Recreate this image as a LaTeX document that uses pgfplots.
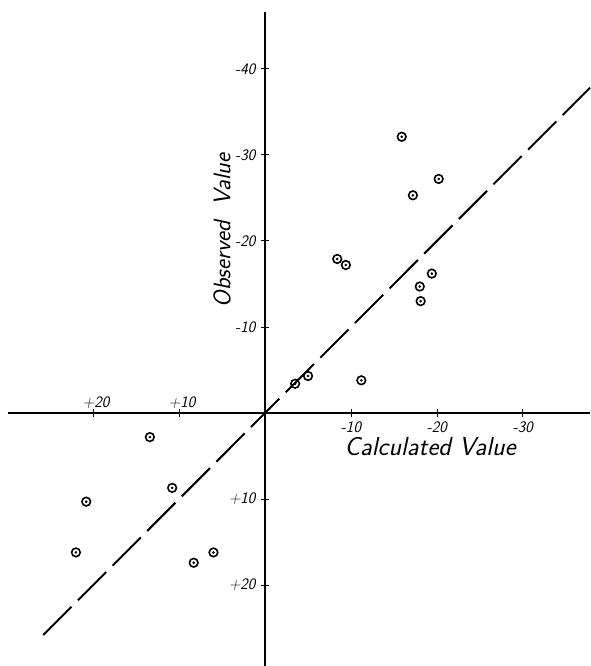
\documentclass[border=0pt]{standalone}
\usepackage{pgfplots}
\pgfplotsset{compat=1.18}
\pgfplotstableread{
x y
-15.9 -32.1
-20.2 -27.2
-17.2 -25.3
-8.4 -17.9
-9.4 -17.2
-19.4 -16.2
-18.0 -14.7
-18.1 -13.0
-5.0 -4.3
-3.5 -3.4
-11.2 -3.8
13.4 2.8
10.8 8.7
20.8 10.3
22.0 16.2
6.0 16.2
8.3 17.4
}\obs
\begin{document}
\begin{tikzpicture}
\begin{axis}[
  name=ax,
  scale only axis,
  width=582pt, height=654pt,
  x dir=reverse, y dir=reverse,
  xmin=-37.8, xmax=29.9,
  ymin=-46.6, ymax=29.4,
  axis lines=middle,
  axis line style={-, black, line width=1.1pt},
  tick style={black, line width=0.9pt},
  major tick length=8pt,
  tick align=center,
  xtick={-10,-20,-30},
  xticklabels={-10,-20,-30},
  extra x ticks={20,10},
  extra x tick labels={+20,+10},
  extra x tick style={xticklabel style={anchor=south, yshift=6pt, xshift=3pt}},
  ytick={-40,-30,-20,-10,10,20},
  yticklabels={-40,-30,-20,-10,+10,+20},
  tick label style={font=\sffamily\itshape\fontsize{16}{18}\selectfont, text=black},
  yticklabel style={xshift=-2pt},
  xticklabel style={yshift=-1pt},
  xlabel={Calculated Value},
  ylabel={Observed\ \ Value},
  x label style={at={(axis cs:-19.2,3.9)}, anchor=center, inner sep=0pt, font=\sffamily\itshape\fontsize{26}{30}\selectfont},
  y label style={at={(axis cs:5.0,-21.2)}, anchor=center, rotate=90, font=\sffamily\itshape\fontsize{24}{28}\selectfont},
  clip=false,
]
\addplot[black, line width=2pt, dash pattern=on 40pt off 9pt] coordinates {(25.8,25.8) (-37.8,-37.8)};
\addplot[only marks, mark=o, mark size=4.3pt, mark options={line width=1.6pt, black}] table {\obs};
\addplot[only marks, mark=*, mark size=1.1pt, mark options={black}] table {\obs};
\end{axis}
\pgfresetboundingbox
\path ([xshift=-8pt]ax.south west) rectangle ([yshift=12pt]ax.north east);
\end{tikzpicture}
\end{document}
